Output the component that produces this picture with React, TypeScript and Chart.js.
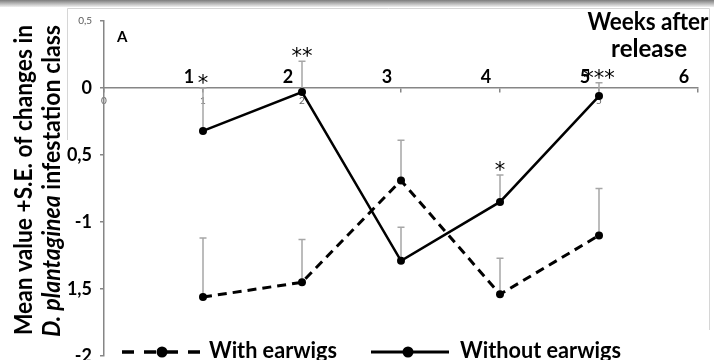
import React, { useEffect, useRef } from 'react';
import { Chart, registerables } from 'chart.js';

Chart.register(...registerables);

// ---- data ----
const weeks = [1, 2, 3, 4, 5];
const withEarwigs = [-1.56, -1.45, -0.69, -1.54, -1.1];
const withEarwigsSE = [0.44, 0.32, 0.3, 0.27, 0.35];
const withoutEarwigs = [-0.32, -0.03, -1.29, -0.85, -0.06];
const withoutEarwigsSE = [0.32, 0.23, 0.25, 0.2, 0.1];
const significance = ['*', '**', '', '*', '***'];
const weekNumberLabels = [1, 2, 3, 4, 5, 6];
const smallXTickLabels = [0, 1, 2, 5];
const seriesNames = ['With earwigs', 'Without earwigs'];
const xTitleLines = ['Weeks after', 'release'];
const yTitleLine1 = 'Mean value +S.E. of changes in';
const yTitleItalic = 'D. plantaginea';
const yTitleRest = ' infestation class';
const panelLabel = 'A';

const FAMILY = 'Lato, "Open Sans", "DejaVu Sans", sans-serif';
const STAR_FAMILY = '"DejaVu Sans", sans-serif';

type Run = { text: string; italic?: boolean };

function drawRuns(
  ctx: CanvasRenderingContext2D,
  runs: Run[],
  x: number,
  y: number,
  size: number,
  weight: string,
  align: 'left' | 'center' | 'right',
  targetWidth?: number,
  family: string = FAMILY
) {
  const fonts = runs.map((r) => `${r.italic ? 'italic ' : ''}${weight} ${size}px ${family}`);
  const widths = runs.map((r, i) => {
    ctx.font = fonts[i];
    return ctx.measureText(r.text).width;
  });
  const total = widths.reduce((a, b) => a + b, 0);
  const sx = targetWidth ? targetWidth / total : 1;
  const w = total * sx;
  const start = align === 'left' ? x : align === 'right' ? x - w : x - w / 2;
  ctx.save();
  ctx.translate(start, y);
  ctx.scale(sx, 1);
  ctx.textAlign = 'left';
  ctx.textBaseline = 'alphabetic';
  let cx = 0;
  runs.forEach((r, i) => {
    ctx.font = fonts[i];
    ctx.fillText(r.text, cx, 0);
    cx += widths[i];
  });
  ctx.restore();
}

const decor = {
  id: 'decor',
  beforeDraw(chart: any) {
    const { ctx, width, height } = chart;
    ctx.save();
    ctx.fillStyle = '#ffffff';
    ctx.fillRect(0, 0, width, height);
    const g = ctx.createLinearGradient(0, 0, 0, 7);
    g.addColorStop(0, '#7c7c7c');
    g.addColorStop(1, '#f0f0f0');
    ctx.fillStyle = g;
    ctx.fillRect(0, 0, width, 7);
    ctx.strokeStyle = '#d6d6d6';
    ctx.lineWidth = 1;
    ctx.beginPath();
    ctx.moveTo(67.5, 140);
    ctx.lineTo(67.5, 8.5);
    ctx.lineTo(709.5, 8.5);
    ctx.lineTo(709.5, 330);
    ctx.stroke();
    ctx.restore();
  },
  beforeDatasetsDraw(chart: any) {
    const { ctx } = chart;
    const xs = chart.scales.x;
    const ys = chart.scales.y;
    ctx.save();
    ctx.strokeStyle = '#a6a6a6';
    ctx.lineWidth = 1.5;
    const series: [number[], number[]][] = [
      [withEarwigs, withEarwigsSE],
      [withoutEarwigs, withoutEarwigsSE],
    ];
    series.forEach(([vals, ses]) => {
      weeks.forEach((w, i) => {
        const px = xs.getPixelForValue(w);
        const y0 = ys.getPixelForValue(vals[i]);
        const y1 = ys.getPixelForValue(vals[i] + ses[i]);
        ctx.beginPath();
        ctx.moveTo(px, y0);
        ctx.lineTo(px, y1);
        ctx.moveTo(px - 3.5, y1);
        ctx.lineTo(px + 3.5, y1);
        ctx.stroke();
      });
    });
    ctx.restore();
  },
  afterDraw(chart: any) {
    const { ctx } = chart;
    const xs = chart.scales.x;
    const ys = chart.scales.y;
    const zeroY = ys.getPixelForValue(0);
    ctx.save();
    ctx.fillStyle = '#000';

    // significance stars above the highest error bar
    weeks.forEach((w, i) => {
      if (!significance[i]) return;
      const top = Math.max(withEarwigs[i] + withEarwigsSE[i], withoutEarwigs[i] + withoutEarwigsSE[i]);
      const py = ys.getPixelForValue(top);
      drawRuns(ctx, [{ text: significance[i] }], xs.getPixelForValue(w), py + 2, 21, 'normal', 'center', undefined, STAR_FAMILY);
    });

    // big week numbers above the axis
    weekNumberLabels.forEach((w) => {
      drawRuns(ctx, [{ text: String(w) }], xs.getPixelForValue(w) - 14, zeroY - 5, 18, 'bold', 'center');
    });

    // panel label
    drawRuns(ctx, [{ text: panelLabel }], 117, 42, 15, 'bold', 'left');

    // x title
    drawRuns(ctx, [{ text: xTitleLines[0] }], 648, 30, 25, 'bold', 'center', 121);
    drawRuns(ctx, [{ text: xTitleLines[1] }], 649, 57, 25, 'bold', 'center', 76);

    // y title (two rotated lines)
    ctx.save();
    ctx.translate(32, 180);
    ctx.rotate(-Math.PI / 2);
    drawRuns(ctx, [{ text: yTitleLine1 }], 0, 0, 24, 'bold', 'center', 310);
    ctx.restore();
    ctx.fillStyle = '#fff';
    ctx.fillRect(39, 22, 28, 318);
    ctx.fillStyle = '#000';
    ctx.save();
    ctx.translate(60, 181);
    ctx.rotate(-Math.PI / 2);
    drawRuns(ctx, [{ text: yTitleItalic, italic: true }, { text: yTitleRest }], 0, 0, 24, 'bold', 'center', 312);
    ctx.restore();

    // legend
    const ly = 352;
    ctx.strokeStyle = '#000';
    ctx.lineWidth = 3.5;
    ctx.setLineDash([12, 10]);
    ctx.beginPath();
    ctx.moveTo(122, ly);
    ctx.lineTo(200, ly);
    ctx.stroke();
    ctx.setLineDash([]);
    ctx.beginPath();
    ctx.arc(162, ly, 5.5, 0, Math.PI * 2);
    ctx.fill();
    drawRuns(ctx, [{ text: seriesNames[0] }], 209, 358, 22, 'bold', 'left', 128);

    ctx.lineWidth = 3;
    ctx.beginPath();
    ctx.moveTo(371, ly);
    ctx.lineTo(449, ly);
    ctx.stroke();
    ctx.beginPath();
    ctx.arc(408, ly, 5.5, 0, Math.PI * 2);
    ctx.fill();
    drawRuns(ctx, [{ text: seriesNames[1] }], 460, 358, 22, 'bold', 'left', 161);

    ctx.restore();
  },
};

export default function App() {
  const ref = useRef<HTMLCanvasElement>(null);

  useEffect(() => {
    const canvas = ref.current;
    if (!canvas) return;
    const chart = new Chart(canvas, {
      type: 'line',
      data: {
        datasets: [
          {
            label: seriesNames[0],
            data: weeks.map((w, i) => ({ x: w, y: withEarwigs[i] })),
            borderColor: '#000',
            backgroundColor: '#000',
            borderWidth: 3,
            borderDash: [9, 6],
            pointRadius: 4,
            pointBackgroundColor: '#000',
            pointBorderWidth: 0,
            tension: 0,
            fill: false,
          },
          {
            label: seriesNames[1],
            data: weeks.map((w, i) => ({ x: w, y: withoutEarwigs[i] })),
            borderColor: '#000',
            backgroundColor: '#000',
            borderWidth: 2.5,
            pointRadius: 4,
            pointBackgroundColor: '#000',
            pointBorderWidth: 0,
            tension: 0,
            fill: false,
          },
        ],
      },
      options: {
        animation: false,
        responsive: false,
        devicePixelRatio: 1,
        layout: { padding: { top: 21, left: 0, right: 16, bottom: 3 } },
        plugins: {
          legend: { display: false },
          tooltip: { enabled: false },
        },
        scales: {
          x: {
            type: 'linear',
            position: { y: 0 },
            min: 0,
            max: 6,
            ticks: {
              stepSize: 1,
              autoSkip: false,
              maxRotation: 0,
              padding: 3,
              color: '#666',
              font: { family: FAMILY, size: 10 },
              callback: (v: any) => (smallXTickLabels.includes(Number(v)) ? String(v) : ''),
            },
            grid: { drawOnChartArea: false, drawTicks: true, tickLength: 4, color: '#868686', lineWidth: 1.5 },
            border: { display: true, color: '#868686', width: 1.5 },
          },
          y: {
            type: 'linear',
            min: -2,
            max: 0.5,
            ticks: {
              stepSize: 0.5,
              padding: 8,
              callback: (v: any) => (Number(v) === 0 ? '0' : String(v).replace('.', ',')),
              font: (c: any) =>
                c.tick && c.tick.value === 0.5
                  ? { family: FAMILY, size: 10, weight: 'normal' }
                  : { family: FAMILY, size: 18, weight: 'bold' },
              color: (c: any) => (c.tick && c.tick.value === 0.5 ? '#595959' : '#000'),
            },
            grid: { drawOnChartArea: false, drawTicks: true, tickLength: 4, color: '#868686', lineWidth: 1.5 },
            border: { display: true, color: '#868686', width: 1.5 },
            afterFit: (s: any) => {
              s.width = 104;
              s.paddingTop = 0;
              s.paddingBottom = 0;
            },
          },
        },
      } as any,
      plugins: [decor],
    });
    return () => chart.destroy();
  }, []);

  return (
    <div style={{ position: 'fixed', left: 0, top: 0, width: 714, height: 360, background: '#fff' }}>
      <canvas ref={ref} width={714} height={360} style={{ display: 'block', width: 714, height: 360 }} />
    </div>
  );
}
